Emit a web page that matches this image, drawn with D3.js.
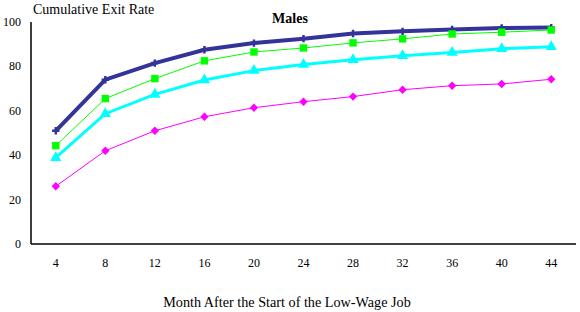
<!DOCTYPE html>
<html>
<head>
<meta charset="utf-8">
<script src="https://cdn.jsdelivr.net/npm/d3@7"></script>
<style>
  body { margin: 0; background: #fff; }
  text { font-family: "Liberation Serif", "Times New Roman", serif; }
</style>
</head>
<body>
<svg id="canvas" width="580" height="312"></svg>
<script>
let months = [4, 8, 12, 16, 20, 24, 28, 32, 36, 40, 44]
let yTicks = [0, 20, 40, 60, 80, 100]

let navyValues = [51, 74, 81.5, 87.5, 90.5, 92.5, 94.8, 95.8, 96.6, 97.3, 97.5]
let greenValues = [44.3, 65.5, 74.5, 82.5, 86.5, 88.3, 90.6, 92.4, 94.6, 95.4, 96.4]
let cyanValues = [38.9, 58.7, 67.4, 73.9, 78.1, 80.9, 83, 84.8, 86.3, 88, 88.9]
let magentaValues = [26, 42, 51, 57.3, 61.4, 64.1, 66.4, 69.5, 71.3, 72.1, 74.2]

let canvas = d3.select('#canvas')

let plotLeft = 31, plotRight = 576, plotTop = 22, plotBottom = 244

let xScale = d3.scaleBand()
                .domain(months)
                .range([plotLeft, plotRight])

let yScale = d3.scaleLinear()
                .domain([0, 100])
                .range([plotBottom, plotTop])

// axis lines
canvas.append('line')
        .attr('x1', plotLeft).attr('x2', plotLeft)
        .attr('y1', plotTop).attr('y2', plotBottom)
        .attr('stroke', 'black').attr('stroke-width', 1.5)
canvas.append('line')
        .attr('x1', plotLeft).attr('x2', plotRight)
        .attr('y1', plotBottom).attr('y2', plotBottom)
        .attr('stroke', 'black').attr('stroke-width', 1.5)

// y tick labels
canvas.selectAll('.ylab')
        .data(yTicks)
        .enter()
        .append('text')
        .attr('class', 'ylab')
        .attr('x', 21)
        .attr('y', (d) => yScale(d) + 4)
        .attr('text-anchor', 'end')
        .attr('font-size', 12)
        .text((d) => d)

// x tick labels
canvas.selectAll('.xlab')
        .data(months)
        .enter()
        .append('text')
        .attr('class', 'xlab')
        .attr('x', (d) => xScale(d) + xScale.bandwidth() / 2)
        .attr('y', 267)
        .attr('text-anchor', 'middle')
        .attr('font-size', 12)
        .text((d) => d)

let series = [
    {values: navyValues, color: '#333399', width: 4, marker: 'star'},
    {values: cyanValues, color: '#00FFFF', width: 3, marker: 'triangle'},
    {values: greenValues, color: '#00FF00', width: 1, marker: 'square'},
    {values: magentaValues, color: '#FF00FF', width: 1, marker: 'diamond'}
]

let line = d3.line()
                .x((d, i) => xScale(months[i]) + xScale.bandwidth() / 2)
                .y((d) => yScale(d))

let symbols = {
    star: d3.symbolCross,
    triangle: d3.symbolTriangle,
    square: d3.symbolSquare,
    diamond: d3.symbolDiamond2
}
let sizes = {star: 30, triangle: 55, square: 55, diamond: 45}

series.forEach((s) => {
    canvas.append('path')
            .attr('d', line(s.values))
            .attr('fill', 'none')
            .attr('stroke', s.color)
            .attr('stroke-width', s.width)

    canvas.selectAll(null)
            .data(s.values)
            .enter()
            .append('path')
            .attr('transform', (d, i) => {
                return 'translate(' + (xScale(months[i]) + xScale.bandwidth() / 2) + ', ' + yScale(d) + ')'
            })
            .attr('d', d3.symbol().type(symbols[s.marker]).size(sizes[s.marker]))
            .attr('fill', s.color)
})

// titles
canvas.append('text')
        .attr('x', 33)
        .attr('y', 14)
        .attr('font-size', 14)
        .text('Cumulative Exit Rate')

canvas.append('text')
        .attr('x', 290)
        .attr('y', 23)
        .attr('text-anchor', 'middle')
        .attr('font-size', 14)
        .attr('font-weight', 'bold')
        .text('Males')

canvas.append('text')
        .attr('x', 287)
        .attr('y', 307)
        .attr('text-anchor', 'middle')
        .attr('font-size', 14.2)
        .text('Month After the Start of the Low-Wage Job')
</script>
</body>
</html>
